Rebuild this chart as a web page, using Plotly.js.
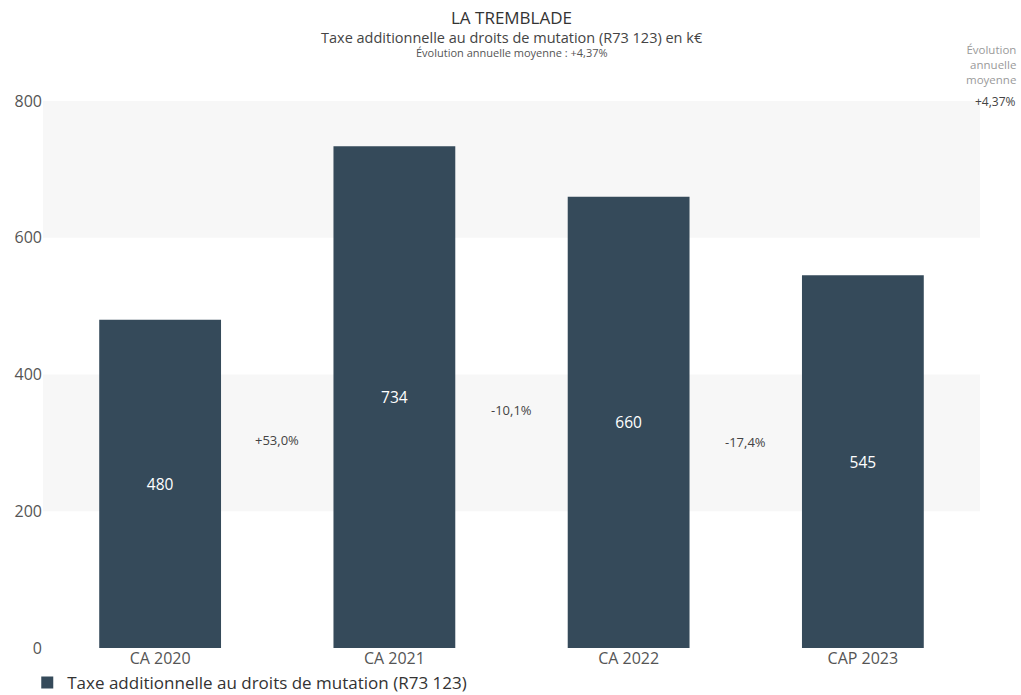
<!DOCTYPE html>
<html>
<head>
<meta charset="utf-8">
<script src="https://cdn.plot.ly/plotly-3.0.1.min.js"></script>
<style>html,body{margin:0;padding:0;background:#fff;}#chart{width:1021px;height:695px;}</style>
</head>
<body>
<div id="chart"></div>
<script>
const categories = ['CA 2020', 'CA 2021', 'CA 2022', 'CAP 2023'];
const values = [480, 734, 660, 545];
const evolLabels = ['+53,0%', '-10,1%', '-17,4%'];
const seriesName = 'Taxe additionnelle au droits de mutation (R73 123)';
const yTicks = [0, 200, 400, 600, 800];
const bandRanges = [[200, 400], [600, 800]];

const FONT = '"Open Sans", Lato, sans-serif';

const trace = {
  type: 'bar',
  x: categories,
  y: values,
  name: seriesName,
  marker: {color: '#354a5a'},
  width: 0.52,
  text: values.map(v => String(v)),
  textposition: 'inside',
  insidetextanchor: 'middle',
  textfont: {color: '#ffffff', size: 15.5, family: FONT},
  hoverinfo: 'x+y',
  showlegend: true
};

const shapes = bandRanges.map(r => ({
  type: 'rect', xref: 'paper', yref: 'y', x0: 0, x1: 1, y0: r[0], y1: r[1],
  fillcolor: '#f7f7f7', line: {width: 0}, layer: 'below'
}));

const annotations = evolLabels.map((t, i) => ({
  x: i + 0.5, y: (values[i] / 2 + values[i + 1] / 2) / 2,
  xref: 'x', yref: 'y', text: t, showarrow: false,
  font: {size: 13, color: '#444', family: FONT}
}));

annotations.push({
  xref: 'paper', yref: 'paper', x: 1.0405, y: 1.022, xanchor: 'right', yanchor: 'bottom',
  text: 'Évolution<br>annuelle<br>moyenne', showarrow: false, align: 'right',
  font: {size: 11.5, color: '#9a9a9a', family: FONT}
});
annotations.push({
  xref: 'paper', yref: 'paper', x: 1.0405, y: 1.0, xanchor: 'right', yanchor: 'middle',
  text: '+4,37%', showarrow: false, align: 'right',
  font: {size: 12, color: '#444', family: FONT}
});
annotations.push({
  xref: 'paper', yref: 'paper', x: 0.5, y: 1.088, xanchor: 'center', yanchor: 'middle',
  text: 'Évolution annuelle moyenne : +4,37%', showarrow: false,
  font: {size: 11, color: '#555', family: FONT}
});
annotations.push({
  xref: 'paper', yref: 'paper', x: 0.5, y: 1.117, xanchor: 'center', yanchor: 'middle',
  text: 'Taxe additionnelle au droits de mutation (R73 123) en k€', showarrow: false,
  font: {size: 14.5, color: '#444', family: FONT}
});

const layout = {
  width: 1021, height: 695,
  margin: {l: 43, r: 41, t: 101, b: 47, pad: 0, autoexpand: false},
  paper_bgcolor: '#ffffff', plot_bgcolor: 'rgba(0,0,0,0)',
  font: {family: FONT, color: '#555'},
  title: {
    text: 'LA TREMBLADE', x: 0.5, xref: 'paper', xanchor: 'center',
    y: 0.974, yref: 'container', yanchor: 'middle',
    font: {size: 17, color: '#333', family: FONT}
  },
  xaxis: {
    type: 'category', showgrid: false, zeroline: false, showline: false,
    ticks: '', tickfont: {size: 16, color: '#555', family: FONT}, ticklabelstandoff: -1
  },
  yaxis: {
    range: [0, 800], tickvals: yTicks, ticktext: yTicks.map(String),
    showgrid: false, zeroline: false, showline: false, ticks: '',
    tickfont: {size: 16, color: '#555', family: FONT}
  },
  bargap: 0.48,
  showlegend: true,
  legend: {
    orientation: 'h', x: -0.0168, xanchor: 'left', y: -0.064, yanchor: 'middle',
    font: {size: 17, color: '#333', family: FONT}, itemwidth: 30, bgcolor: 'rgba(0,0,0,0)'
  },
  shapes: shapes,
  annotations: annotations
};

Plotly.newPlot('chart', [trace], layout, {displayModeBar: false, responsive: false});
</script>
</body>
</html>
